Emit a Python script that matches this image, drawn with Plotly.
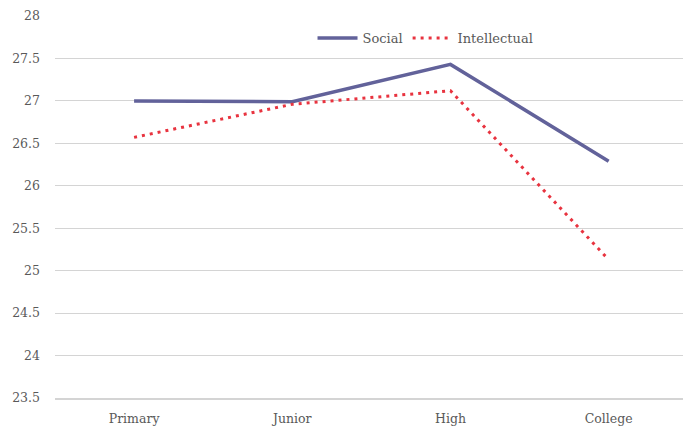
import plotly.graph_objects as go

# School levels and mean scores for each group
levels = ["Primary", "Junior", "High", "College"]
social = [27.0, 26.99, 27.43, 26.29]
intellectual = [26.57, 26.96, 27.12, 25.13]

y_ticks = [23.5, 24, 24.5, 25, 25.5, 26, 26.5, 27, 27.5, 28]
y_tick_text = ["23.5", "24", "24.5", "25", "25.5", "26", "26.5", "27", "27.5", "28"]

font_family = "DejaVu Serif"
text_color = "#595959"

fig = go.Figure()
fig.add_trace(go.Scatter(
    x=levels, y=social, name="Social", mode="lines",
    line=dict(color="#62629a", width=3.5),
))
fig.add_trace(go.Scatter(
    x=levels, y=intellectual, name="Intellectual", mode="lines",
    line=dict(color="#e8333f", width=3, dash="3px,5px"),
))

fig.update_layout(
    width=683, height=426,
    margin=dict(l=55, r=0, t=16, b=28),
    paper_bgcolor="white", plot_bgcolor="white",
    font=dict(family=font_family, size=12, color=text_color),
    showlegend=True,
    legend=dict(
        orientation="h", x=0.59, y=0.942, xanchor="center", yanchor="middle",
        bgcolor="rgba(0,0,0,0)", font=dict(size=13, color=text_color),
        itemwidth=40,
    ),
    xaxis=dict(
        type="category", range=[-0.5, 3.47],
        showgrid=False, showline=True, linecolor="#d4d4d4", linewidth=2,
        ticks="", ticklabelstandoff=8, fixedrange=True,
        tickfont=dict(size=12.5),
    ),
    yaxis=dict(
        range=[23.5, 28], tickvals=y_ticks, ticktext=y_tick_text,
        showgrid=True, gridcolor="#d4d4d4", gridwidth=1,
        zeroline=False, showline=False, ticks="",
        ticklabelstandoff=14, tickfont=dict(size=12.5),
    ),
)

fig.write_html("out.html")
